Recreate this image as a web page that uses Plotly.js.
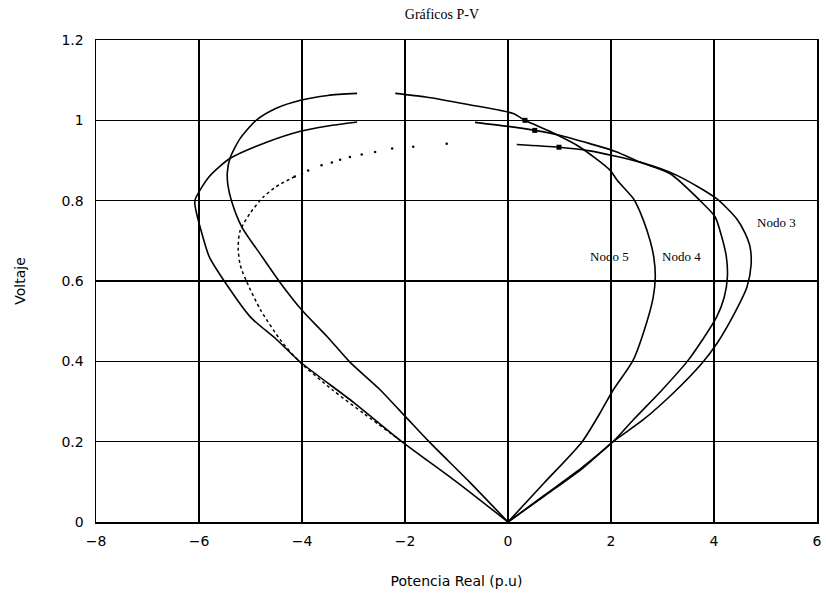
<!DOCTYPE html>
<html>
<head>
<meta charset="utf-8">
<script src="https://cdn.plot.ly/plotly-3.0.1.min.js"></script>
<style>html,body{margin:0;padding:0;background:#fff;}#chart{width:826px;height:601px;}</style>
</head>
<body>
<div id="chart"></div>
<script>
// Nodo 5 (inner right nose, highest top voltage)
const nodo5X = [0, 0.7, 1.44, 1.79, 2.04, 2.43, 2.7, 2.82, 2.86, 2.83, 2.76, 2.63, 2.5, 2.43, 2.12, 1.98, 1.4, 0.9, 0.33, 0.1, -0.8, -1.6, -2.19, null, -2.93, -3.5, -4.03, -4.5, -4.89, -5.2, -5.4, -5.45, -5.44, -5.37, -5.17, -4.8, -4.43, -4.0, -3.5, -3.07, -2.49, -1.96, -1.51, -0.75, 0];
const nodo5Y = [0, 0.097, 0.2, 0.272, 0.328, 0.403, 0.5, 0.56, 0.61, 0.66, 0.70, 0.751, 0.79, 0.806, 0.851, 0.876, 0.933, 0.967, 1.0, 1.017, 1.04, 1.058, 1.067, null, 1.067, 1.062, 1.05, 1.03, 1.0, 0.955, 0.905, 0.87, 0.84, 0.80, 0.735, 0.665, 0.597, 0.527, 0.46, 0.398, 0.33, 0.258, 0.197, 0.1, 0];

// Nodo 4 (middle right nose)
const nodo4X = [0, 0.7, 1.46, 2.04, 2.43, 3.0, 3.5, 4.05, 4.2, 4.26, 4.24, 4.15, 4.02, 3.73, 3.15, 2.56, 2.1, 1.59, 1.0, 0.52, 0, -0.64, null, -2.93, -3.5, -4.03, -4.7, -5.4, -5.8, -6.08, -6.05, -5.98, -5.8, -5.5, -5.0, -4.5, -4.04, -3.0, -2.1, -1.0, 0];
const nodo4Y = [0, 0.066, 0.138, 0.2, 0.254, 0.33, 0.403, 0.51, 0.56, 0.61, 0.66, 0.71, 0.76, 0.80, 0.867, 0.896, 0.922, 0.942, 0.963, 0.975, 0.985, 0.995, null, 0.996, 0.986, 0.973, 0.945, 0.905, 0.86, 0.80, 0.77, 0.735, 0.66, 0.598, 0.51, 0.455, 0.399, 0.298, 0.204, 0.1, 0];

// Nodo 3 (outer right nose, solid part)
const nodo3X = [0, 0.7, 1.46, 2.04, 2.62, 3.2, 3.77, 4.06, 4.4, 4.64, 4.72, 4.7, 4.6, 4.44, 4.05, 3.28, 2.56, 1.59, 0.99, 0.17];
const nodo3Y = [0, 0.064, 0.135, 0.2, 0.254, 0.32, 0.396, 0.445, 0.52, 0.585, 0.64, 0.685, 0.72, 0.755, 0.805, 0.863, 0.896, 0.924, 0.933, 0.94];

// Nodo 3 (left side, sparse dotted points)
const nodo3DotsX = [-1.19, -1.84, -2.25, -2.58, -2.84, -3.07, -3.26, -3.42, -3.62, -3.88, -4.0, -4.14];
const nodo3DotsY = [0.942, 0.934, 0.930, 0.921, 0.915, 0.909, 0.902, 0.895, 0.888, 0.875, 0.867, 0.86];

// Nodo 3 (left side, dense dotted part around the nose)
const nodo3LeftX = [-4.14, -4.5, -4.76, -5.0, -5.2, -5.24, -5.2, -5.07, -4.8, -4.4, -4.04, -3.4, -2.8, -2.1];
const nodo3LeftY = [0.86, 0.835, 0.808, 0.77, 0.726, 0.684, 0.64, 0.597, 0.527, 0.45, 0.398, 0.328, 0.27, 0.204];

// Starting-point markers
const startX = [0.33, 0.52, 0.99];
const startY = [1.0, 0.975, 0.933];

// Curve labels
const labelText = ["Nodo 5", "Nodo 4", "Nodo 3"];
const labelX = [1.98, 3.36, 5.22];
const labelY = [0.66, 0.66, 0.746];

const line = {color: '#000', width: 1.6, shape: 'spline', smoothing: 0.7};
const traces = [
  {x: nodo5X, y: nodo5Y, mode: 'lines', line: line, connectgaps: false, showlegend: false},
  {x: nodo4X, y: nodo4Y, mode: 'lines', line: line, connectgaps: false, showlegend: false},
  {x: nodo3X, y: nodo3Y, mode: 'lines', line: line, showlegend: false},
  {x: nodo3DotsX, y: nodo3DotsY, mode: 'markers', marker: {color: '#000', size: 2.5}, showlegend: false},
  {x: nodo3LeftX, y: nodo3LeftY, mode: 'lines', line: {color: '#000', width: 1.5, dash: 'dot', shape: 'spline', smoothing: 0.7}, showlegend: false},
  {x: startX, y: startY, mode: 'markers', marker: {color: '#000', size: 5, symbol: 'square'}, showlegend: false}
];

const annotations = labelText.map((t, i) => ({
  x: labelX[i], y: labelY[i], xref: 'x', yref: 'y', text: t, showarrow: false,
  font: {family: 'Liberation Serif, Times New Roman, serif', size: 13, color: '#000'}
}));

const axisFont = {family: 'DejaVu Sans, Arial, sans-serif', size: 14, color: '#000'};
const layout = {
  width: 826, height: 601,
  margin: {l: 96, r: 9, t: 40, b: 79},
  paper_bgcolor: '#fff', plot_bgcolor: '#fff',
  title: {text: 'Gráficos P-V', x: 0.535, xref: 'container', y: 0.977, yref: 'container', yanchor: 'middle',
          font: {family: 'Liberation Serif, Times New Roman, serif', size: 14, color: '#000'}},
  xaxis: {range: [-8, 6], dtick: 2, tick0: 0, showgrid: true, gridcolor: '#000', gridwidth: 1.5,
          zeroline: false, showline: true, mirror: true, linecolor: '#000', linewidth: 1.5,
          ticks: 'inside', ticklen: 5, tickcolor: '#000', tickfont: axisFont, ticklabelstandoff: 6,
          title: {text: 'Potencia Real (p.u)', font: {family: 'DejaVu Sans, Arial, sans-serif', size: 14, color: '#000'}, standoff: 28}},
  yaxis: {range: [0, 1.2], dtick: 0.2, showgrid: true, gridcolor: '#000', gridwidth: 1.5,
          zeroline: false, showline: true, mirror: true, linecolor: '#000', linewidth: 1.5,
          ticks: 'inside', ticklen: 5, tickcolor: '#000', tickfont: axisFont, ticklabelstandoff: 8,
          title: {text: 'Voltaje', font: {family: 'DejaVu Sans, Arial, sans-serif', size: 14, color: '#000'}, standoff: 32}},
  annotations: annotations,
  showlegend: false
};

Plotly.newPlot('chart', traces, layout, {displayModeBar: false, staticPlot: true});
</script>
</body>
</html>
